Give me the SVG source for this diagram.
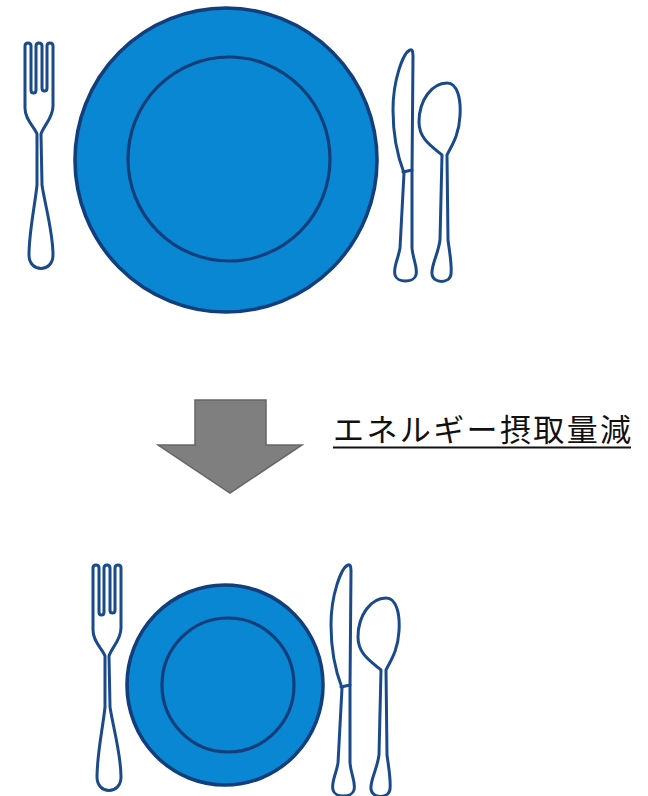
<svg xmlns="http://www.w3.org/2000/svg" xmlns:xlink="http://www.w3.org/1999/xlink" width="648" height="796" viewBox="0 0 648 796">
  <style>
    .ink { fill: #ffffff; stroke: #1b4a8a; stroke-width: 3; stroke-linejoin: round; stroke-linecap: round; }
    .plate { fill: #0a87d2; stroke: #123f7c; stroke-width: 3.6; }
    .rim { fill: none; stroke: #123f7c; stroke-width: 3.2; }
    .label { font-family: "Noto Sans CJK JP", "Noto Sans", sans-serif; font-size: 31px; fill: #111111; }
  </style>
  <defs>
    <!-- cutlery outlines, drawn in the coordinates of the upper setting -->
    <path id="fork" class="ink" d="M25,46 C25,42 31,42 31,46 L31,90 C31,94 36,94 36,90 L36,46 C36,42 42,42 42,46 L42,88 C42,92 47,92 47,88 L47,46 C47,42 53,42 53,46 L53,106 C53,118 44,125 41,134 L42,185 C45,205 53,232 53,255 C53,273 29,273 29,255 C29,232 35,205 37,185 L37,134 C34,126 25,120 25,108 Z"/>
    <g id="knife">
      <path class="ink" d="M410,50 C403,53 393,80 393,110 C393,140 399,160 404,173 L400,248 C398,260 393,267 395,275 C397,283 414,283 416,275 C418,267 413,260 412,248 L412,173 L413,56 C413,51 412,49 410,50 Z"/>
      <path class="ink" d="M403,172 L412,170"/>
    </g>
    <path id="spoon" class="ink" d="M442,155 C430,145 419,138 419,122 C419,100 432,83 447,83 C458,83 461,100 460,116 C459,135 452,145 447,155 L448,240 C450,255 452,265 451,274 C450,284 433,284 432,274 C431,265 438,255 440,240 Z"/>
  </defs>

  <!-- upper place setting -->
  <g id="setting-before">
    <g id="plate-large">
      <ellipse class="plate" cx="226" cy="160" rx="151" ry="152"/>
      <ellipse class="rim" cx="229" cy="159" rx="101" ry="102"/>
    </g>
    <use id="fork-top" xlink:href="#fork"/>
    <use id="knife-top" xlink:href="#knife"/>
    <use id="spoon-top" xlink:href="#spoon"/>
  </g>

  <!-- arrow with caption -->
  <g id="arrow">
    <polygon points="195,400 266,400 266,445 302,445 230,493 158,445 195,445" fill="#7f7f7f" stroke="#666666" stroke-width="1.5" stroke-linejoin="miter"/>
  </g>
  <g id="caption">
    <text class="label" x="333" y="441" textLength="298" lengthAdjust="spacing">エネルギー摂取量減</text>
    <line x1="333" y1="447.5" x2="631" y2="447.5" stroke="#111111" stroke-width="2"/>
  </g>

  <!-- lower place setting with a smaller plate -->
  <g id="setting-after">
    <g id="plate-small">
      <ellipse class="plate" cx="225" cy="685" rx="98" ry="100"/>
      <ellipse class="rim" cx="228" cy="685" rx="66" ry="67"/>
    </g>
    <use id="fork-bottom" xlink:href="#fork" transform="translate(68,522)"/>
    <use id="knife-bottom" xlink:href="#knife" transform="translate(-62,515)"/>
    <use id="spoon-bottom" xlink:href="#spoon" transform="translate(-61,515)"/>
  </g>
</svg>
